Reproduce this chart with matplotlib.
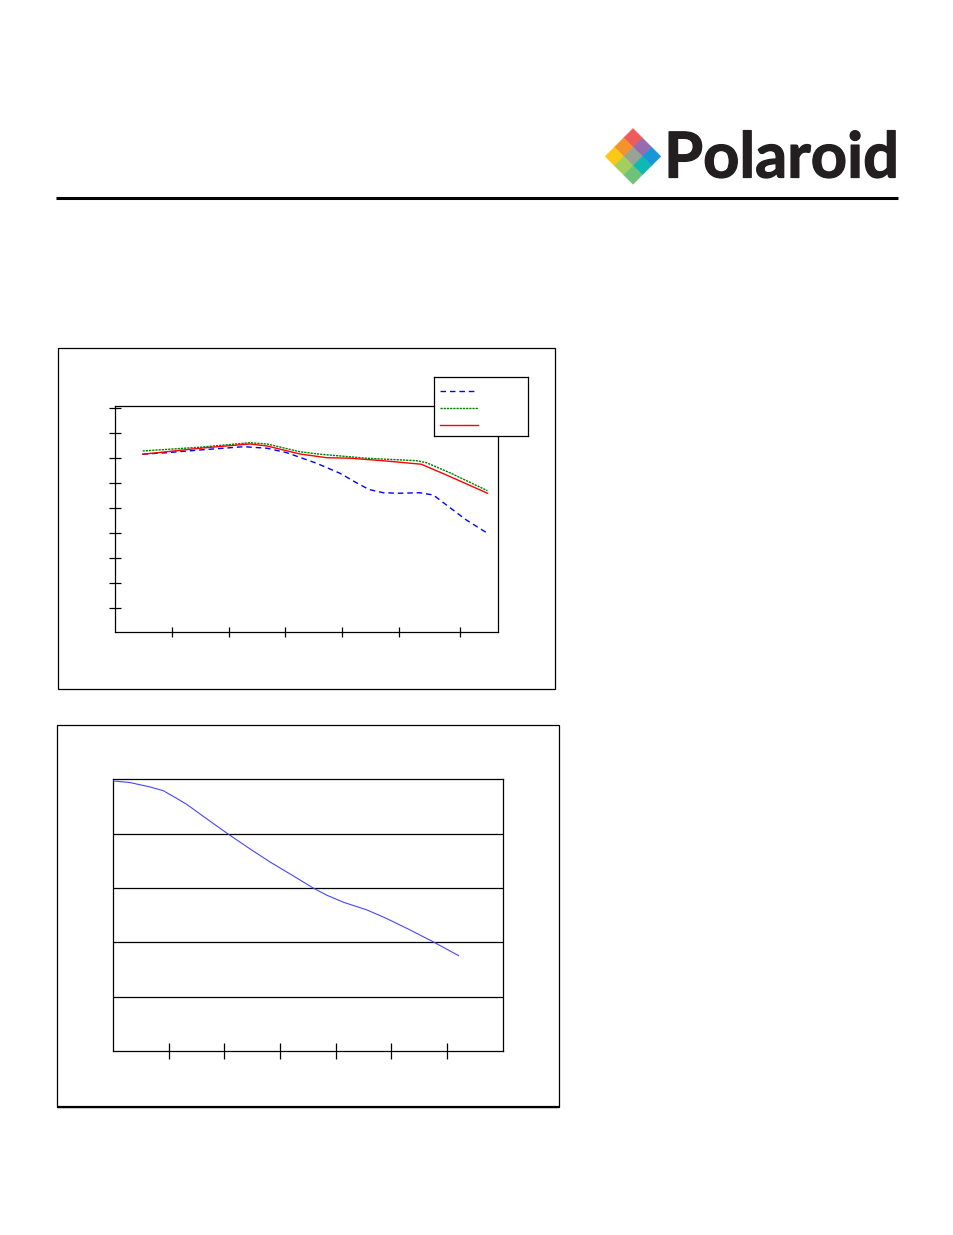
import matplotlib
matplotlib.use("Agg")
import matplotlib.pyplot as plt
import matplotlib.patheffects as pe
from matplotlib.patches import Rectangle, Polygon
from matplotlib.lines import Line2D

W, H = 954, 1235

# ---------------- data ----------------
# top chart: three curves
top_blue_x = [0.48, 0.90, 1.49, 2.25, 2.66, 3.01, 3.53, 3.94, 4.20, 4.45, 4.70, 4.99, 5.34, 5.58, 5.81, 6.16, 6.53]
top_blue_y = [7.15, 7.21, 7.32, 7.45, 7.39, 7.21, 6.79, 6.39, 6.05, 5.74, 5.61, 5.59, 5.61, 5.52, 5.12, 4.52, 3.99]
top_green_x = [0.48, 1.49, 2.36, 2.66, 3.24, 3.59, 4.41, 5.29, 5.46, 5.87, 6.53]
top_green_y = [7.28, 7.43, 7.61, 7.56, 7.25, 7.15, 6.99, 6.89, 6.81, 6.41, 5.69]
top_red_x = [0.48, 1.49, 2.36, 2.66, 3.24, 3.71, 4.12, 4.70, 5.37, 5.81, 6.53]
top_red_y = [7.15, 7.39, 7.56, 7.48, 7.16, 7.01, 6.99, 6.89, 6.75, 6.32, 5.59]
top_xticks = [1.0, 2.0, 2.98, 3.98, 4.98, 6.04]
top_yticks = [1, 2, 3, 4, 5, 6, 7, 8, 9]

# bottom chart: one curve
bot_x = [0.0, 0.30, 0.66, 0.90, 1.14, 1.32, 1.74, 2.10, 2.46, 2.82, 3.18, 3.60, 3.84, 4.14, 4.56, 4.92, 5.34, 5.76, 6.21]
bot_y = [4.97, 4.94, 4.86, 4.79, 4.65, 4.54, 4.23, 3.97, 3.72, 3.48, 3.26, 3.00, 2.87, 2.74, 2.60, 2.44, 2.23, 2.01, 1.76]
bot_xticks = [1, 2, 3, 4, 5, 6]
bot_grid = [1, 2, 3, 4]

logo_colors = {
    (0, 0): "#ef5b5b", (1, 0): "#f5922a", (0, 1): "#966bb0",
    (2, 0): "#fdc716", (1, 1): "#98a394", (0, 2): "#1996d8",
    (2, 1): "#a3cf5c", (1, 2): "#10b8b3", (2, 2): "#6ec27a",
}


def rect(l, t, r, b):
    return [l / W, 1 - b / H, (r - l) / W, (b - t) / H]


fig = plt.figure(figsize=(W / 100, H / 100), dpi=100)
fig.patch.set_facecolor("white")

# ---------------- header (logo + rule) ----------------
lax = fig.add_axes([0, 0, 1, 1])
lax.set_xlim(0, W)
lax.set_ylim(H, 0)
lax.axis("off")
cx, top, d = 633.0, 128.5, 9.3
for (i, j), c in logo_colors.items():
    x0 = cx + (j - i) * d
    y0 = top + d + (i + j) * d
    lax.add_patch(Polygon([(x0, y0 - d), (x0 + d, y0), (x0, y0 + d), (x0 - d, y0)],
                          closed=True, facecolor=c, edgecolor=c, lw=0.3))
lax.text(664, 177.5, "Polaroid", ha="left", va="baseline", fontsize=45.5,
         fontweight="bold", family=["Lato", "DejaVu Sans"], color="#231f20",
         path_effects=[pe.withStroke(linewidth=0.9, foreground="#231f20")])
lax.plot([56, 898], [198, 198], color="black", lw=2.2, solid_capstyle="butt")

# frames around charts
lax.add_patch(Rectangle((58.3, 348.3), 497, 340.7, fill=False, edgecolor="black", lw=0.9))
lax.add_patch(Rectangle((57.3, 725.3), 501.4, 381.4, fill=False, edgecolor="black", lw=0.9))
lax.plot([57.3, 558.7], [1106.5, 1106.5], color="black", lw=1.6, solid_capstyle="butt")

# ---------------- top chart ----------------
ax1 = fig.add_axes(rect(115.3, 405.7, 498.3, 632.3))
ax1.plot(top_blue_x, top_blue_y, color="#0000ff", lw=1.0, dashes=(4, 2.8))
ax1.plot(top_green_x, top_green_y, color="#008000", lw=1.0, dashes=(1.6, 0.7))
ax1.plot(top_red_x, top_red_y, color="#ff0000", lw=1.0)
ax1.set_xlim(0, 6.72)
ax1.set_ylim(0.03, 9.09)
ax1.set_xticks(top_xticks)
ax1.set_yticks(top_yticks)
ax1.tick_params(axis="x", direction="inout", length=7.5, width=0.9, labelbottom=False)
ax1.tick_params(axis="y", direction="inout", length=8.5, width=0.9, labelleft=False)
for s in ax1.spines.values():
    s.set_linewidth(0.9)

# legend box (no labels)
leg = fig.add_axes(rect(434.3, 377.3, 527.7, 436.3))
leg.set_xlim(434.3, 527.7)
leg.set_ylim(436.3, 377.3)
leg.set_xticks([])
leg.set_yticks([])
leg.set_facecolor("white")
for s in leg.spines.values():
    s.set_linewidth(0.9)
leg.add_line(Line2D([440, 474], [391, 391], color="#0000ff", lw=1.0, dashes=(4, 2.8)))
leg.add_line(Line2D([440, 478], [408, 408], color="#008000", lw=1.0, dashes=(1.6, 0.7)))
leg.add_line(Line2D([440, 478], [425, 425], color="#ff0000", lw=1.0))

# ---------------- bottom chart ----------------
ax2 = fig.add_axes(rect(113.3, 779.3, 503.5, 1051.3))
for g in bot_grid:
    ax2.axhline(g, color="black", lw=0.9, zorder=1)
ax2.plot(bot_x, bot_y, color="#4646ff", lw=0.8, zorder=3)
ax2.set_xlim(0, 7.02)
ax2.set_ylim(0, 5)
ax2.set_xticks(bot_xticks)
ax2.set_yticks([])
ax2.tick_params(axis="x", direction="inout", length=11.5, width=0.9, labelbottom=False)
for s in ax2.spines.values():
    s.set_linewidth(0.9)

fig.savefig("out.png", dpi=100, facecolor="white")
